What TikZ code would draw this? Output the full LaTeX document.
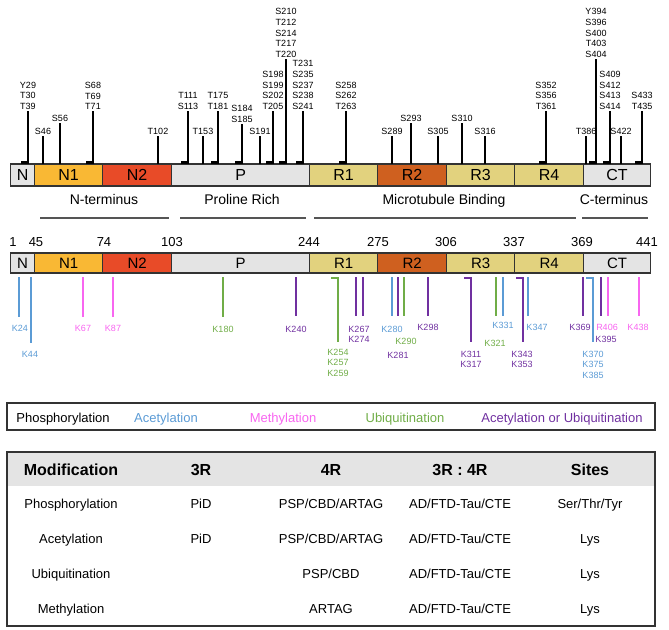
\documentclass[tikz,border=0pt]{standalone}
\usepackage{fontspec}
\setmainfont{Liberation Sans}
\definecolor{domgrey}{HTML}{E4E4E4}
\definecolor{domNone}{HTML}{F9B834}
\definecolor{domNtwo}{HTML}{E84B28}
\definecolor{domR}{HTML}{E2D27E}
\definecolor{domRtwo}{HTML}{CF601F}
\definecolor{acet}{HTML}{5B9BD5}
\definecolor{meth}{HTML}{F866F0}
\definecolor{ubiq}{HTML}{70AD47}
\definecolor{both}{HTML}{7030A0}
\definecolor{rim}{HTML}{333333}
\definecolor{rule}{HTML}{555555}

\begin{document}
\begin{tikzpicture}[x=1pt,y=-1pt,
  dombox/.style={draw=rim,line width=1.2pt,inner sep=0pt,anchor=west},
  psite/.style={line width=2.6pt,black},
  ksite/.style={line width=2.4pt},
  sitelab/.style={font=\fontsize{9}{10.8}\selectfont,align=center,inner sep=0pt},
  region/.style={font=\fontsize{14}{16}\selectfont,anchor=base},
  regline/.style={rule,line width=1.5pt},
  posnum/.style={font=\fontsize{13}{15}\selectfont,anchor=base},
  legtext/.style={font=\fontsize{13}{15}\selectfont,anchor=base},
  headtext/.style={font=\fontsize{16}{18}\selectfont\bfseries,anchor=base},
  celltext/.style={font=\fontsize{13}{15}\selectfont,anchor=base}]
\useasboundingbox (0,0) rectangle (669,629);

\foreach \a/\b/\c/\n in {10/34/domgrey/N, 34/102/domNone/N1, 102/171/domNtwo/N2,
    171/309/domgrey/P, 309/377/domR/R1, 377/446/domRtwo/R2, 446/514/domR/R3,
    514/583/domR/R4, 583/650/domgrey/CT}{
  \node[dombox,fill=\c,minimum width=\b-\a,minimum height=22,
    font=\fontsize{16}{18}\selectfont] (top\n) at (\a,175) {\n};
  \node[dombox,fill=\c,minimum width=\b-\a,minimum height=20,
    font=\fontsize{15}{17}\selectfont] (low\n) at (\a,263) {\n};
}

\foreach \x/\t/\f/\s in {28/111/1/{Y29\\T30\\T39}, 43/136/0/S46, 60/123/0/S56,
    93/111/1/{S68\\T69\\T71}, 158/136/0/T102, 188/111/1/{T111\\S113},
    203/136/0/T153, 218/111/1/{T175\\T181}, 242/124/1/{S184\\S185},
    260/136/0/S191, 273/111/1/{S198\\S199\\S202\\T205},
    286/59/1/{S210\\T212\\S214\\T217\\T220},
    303/111/1/{T231\\S235\\S237\\S238\\S241}, 346/111/1/{S258\\S262\\T263},
    392/136/0/S289, 411/123/0/S293, 438/136/0/S305, 462/123/0/S310,
    485/136/0/S316, 546/111/1/{S352\\S356\\T361}, 586/136/0/T386,
    596/59/1/{Y394\\S396\\S400\\T403\\S404}, 610/111/1/{S409\\S412\\S413\\S414},
    621/136/0/S422, 642/111/1/{S433\\T435}}{
  \ifnum\f=1
    \draw[psite] (\x-7,162.7) -- (\x,162.7) -- (\x,\t);
  \else
    \draw[psite] (\x,164) -- (\x,\t);
  \fi
  \node[sitelab,anchor=south] (ph\x) at (\x,\t-1) {\s};
}

\node[region] (capN) at (104,204) {N-terminus};
\node[region] (capP) at (242,204) {Proline Rich};
\node[region] (capM) at (444,204) {Microtubule Binding};
\node[region] (capC) at (614,204) {C-terminus};
\draw[regline] (40,218) -- (169,218);
\draw[regline] (180,218) -- (306,218);
\draw[regline] (314,218) -- (576,218);
\draw[regline] (582,218) -- (648,218);

\foreach \x/\n in {13/1, 36/45, 104/74, 172/103, 309/244, 378/275, 446/306,
    514/337, 582/369, 647/441}
  \node[posnum] (pos\n) at (\x,246) {\n};

\foreach \x/\b/\c/\f in {19/317/acet/0, 31/343/acet/0, 83/317/meth/0,
    113/317/meth/0, 223/317/ubiq/0, 296/316/both/0, 338/342/ubiq/1,
    356/316/both/0, 363/316/both/0, 392/316/acet/0, 398/316/both/0,
    404/316/ubiq/0, 428/316/both/0, 471/342/both/1, 496/316/ubiq/0,
    503/316/acet/0, 523/342/both/1, 528/316/acet/0, 583/316/both/0,
    593/342/acet/1, 601/316/both/0, 608/316/meth/0, 639/316/meth/0}{
  \ifnum\f=1
    \draw[ksite,\c] (\x-7,278.2) -- (\x,278.2) -- (\x,\b);
  \else
    \draw[ksite,\c] (\x,277) -- (\x,\b);
  \fi
}

\foreach \x/\y/\c/\s in {20/328/acet/K24, 30/354/acet/K44, 83/328/meth/K67,
    113/328/meth/K87, 223/329/ubiq/K180, 296/329/both/K240,
    338/352/ubiq/{K254\\K257\\K259}, 359/329/both/{K267\\K274},
    392/329/acet/K280, 398/355/both/K281, 406/341/ubiq/K290,
    428/327/both/K298, 471/354/both/{K311\\K317}, 495/343/ubiq/K321,
    503/325/acet/K331, 522/354/both/{K343\\K353}, 537/327/acet/K347,
    580/327/both/K369, 593/354/acet/{K370\\K375\\K385}, 606/339/both/K395,
    607/327/meth/R406, 638/327/meth/K438}
  \node[sitelab,text=\c,anchor=north] (ly\x) at (\x,\y-3.3) {\s};

\draw[rim,line width=1.6pt] (7,403) rectangle (655,430);
\node[legtext] (legP) at (63,422) {Phosphorylation};
\node[legtext,text=acet] (legA) at (166,422) {Acetylation};
\node[legtext,text=meth] (legM) at (283,422) {Methylation};
\node[legtext,text=ubiq] (legU) at (405,422) {Ubiquitination};
\node[legtext,text=both] (legB) at (562,422) {Acetylation or Ubiquitination};

\fill[domgrey] (7,452) rectangle (655,486);
\draw[rim,line width=1.8pt] (7,452) rectangle (655,626);
\foreach \x/\s in {71/Modification, 201/3R, 331/4R, 460/{3R : 4R}, 590/Sites}
  \node[headtext] (hd\x) at (\x,475) {\s};
\foreach \y/\m/\r/\q/\s in {508/Phosphorylation/PiD/PSP\slash CBD\slash ARTAG/Ser\slash Thr\slash Tyr,
    543/Acetylation/PiD/PSP\slash CBD\slash ARTAG/Lys,
    578/Ubiquitination//PSP\slash CBD/Lys,
    613/Methylation//ARTAG/Lys}{
  \node[celltext] (m\y) at (71,\y) {\m};
  \node[celltext] (r\y) at (201,\y) {\r};
  \node[celltext] (q\y) at (331,\y) {\q};
  \node[celltext] (b\y) at (460,\y) {AD/FTD-Tau/CTE};
  \node[celltext] (s\y) at (590,\y) {\s};
}
\end{tikzpicture}
\end{document}
